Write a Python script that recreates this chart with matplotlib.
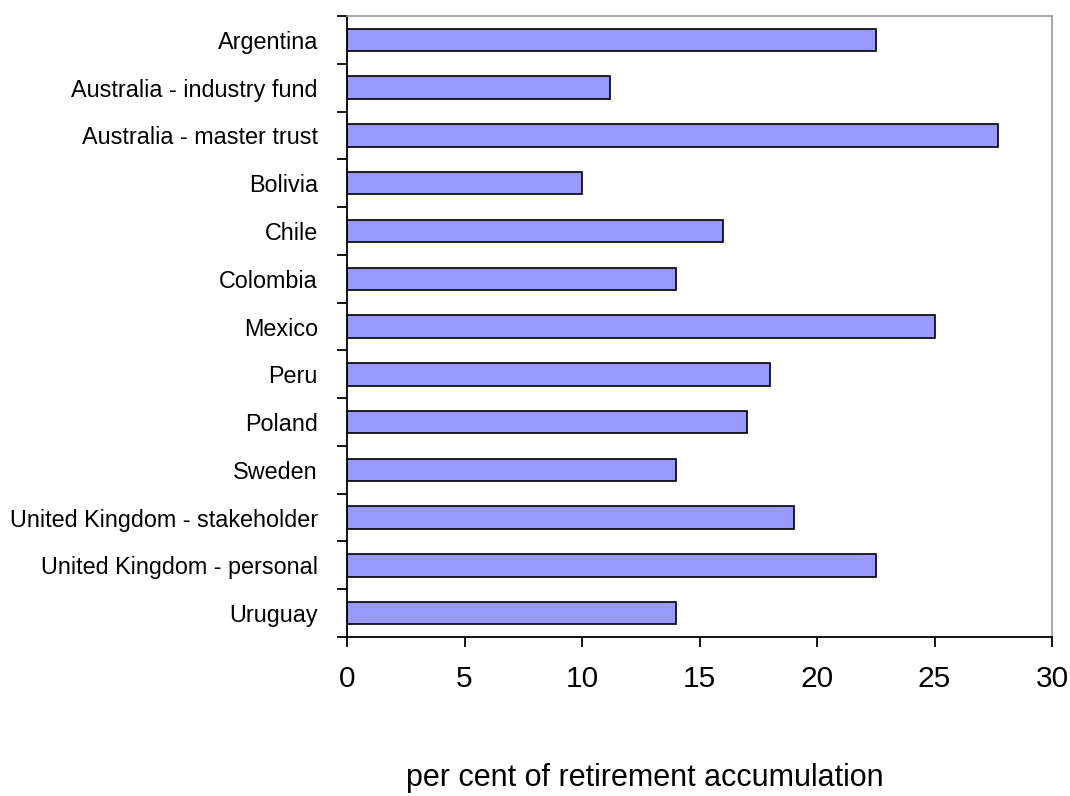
import matplotlib.pyplot as plt
import numpy as np

plt.rcParams['font.family'] = ['Liberation Sans', 'DejaVu Sans']

categories = [
    "Argentina",
    "Australia - industry fund",
    "Australia - master trust",
    "Bolivia",
    "Chile",
    "Colombia",
    "Mexico",
    "Peru",
    "Poland",
    "Sweden",
    "United Kingdom - stakeholder",
    "United Kingdom - personal",
    "Uruguay",
]
values = [22.5, 11.2, 27.7, 10, 16, 14, 25, 18, 17, 14, 19, 22.5, 14]
x_ticks = [0, 5, 10, 15, 20, 25, 30]

fig = plt.figure(figsize=(10.7, 7.96), dpi=100)
ax = fig.add_axes([0.3243, 0.1997, 0.6589, 0.7802])

pos = np.arange(len(categories))
ax.barh(pos, values, height=0.47, color="#9999FF", edgecolor="black", linewidth=1.2)

ax.set_xlim(0, 30)
ax.set_ylim(len(categories) - 0.5, -0.5)

# category boundaries carry the tick marks, labels sit at the centres
ax.set_yticks(np.arange(-0.5, len(categories)), labels=[])
ax.set_yticks(pos, labels=categories, minor=True)
ax.tick_params(axis="y", which="major", direction="out", length=7, width=1.3, color="black")
ax.tick_params(axis="y", which="minor", length=0, pad=21, labelsize=16.8)

ax.set_xticks(x_ticks)
ax.tick_params(axis="x", direction="out", length=7, width=1.3, pad=13, labelsize=21.5)

for side in ("left", "bottom"):
    ax.spines[side].set_color("black")
    ax.spines[side].set_linewidth(1.3)
for side in ("top", "right"):
    ax.spines[side].set_color("#999999")
    ax.spines[side].set_linewidth(1.2)

fig.text(645 / 1070, 1 - 778 / 796, "per cent of retirement accumulation",
         ha="center", va="center", fontsize=22)

fig.savefig("out.png", dpi=100)
